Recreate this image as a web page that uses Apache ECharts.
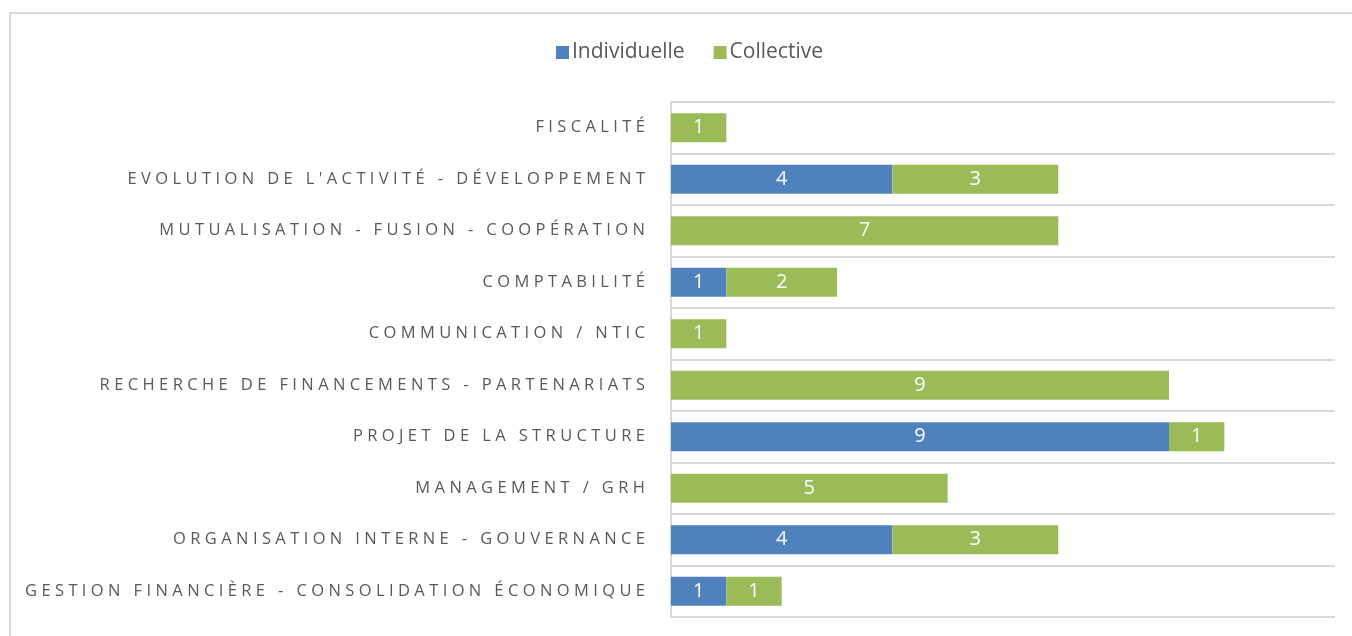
<!DOCTYPE html>
<html>
<head>
<meta charset="utf-8">
<script src="https://cdn.jsdelivr.net/npm/echarts@6/dist/echarts.min.js"></script>
<style>
  html, body { margin: 0; padding: 0; background: #fff; }
  #frame { position: absolute; left: 9px; top: 12px; width: 1360px; height: 640px; border: 2px solid #d9d9d9; box-sizing: border-box; }
  #chart { position: absolute; left: 0; top: 0; width: 1352px; height: 636px; }
</style>
</head>
<body>
<div id="frame"></div>
<div id="chart"></div>
<script>
// catégories, du bas vers le haut
const categories = [
  'GESTION FINANCIÈRE - CONSOLIDATION ÉCONOMIQUE',
  'ORGANISATION INTERNE - GOUVERNANCE',
  'MANAGEMENT / GRH',
  'PROJET DE LA STRUCTURE',
  'RECHERCHE DE FINANCEMENTS - PARTENARIATS',
  'COMMUNICATION / NTIC',
  'COMPTABILITÉ',
  'MUTUALISATION - FUSION - COOPÉRATION',
  "EVOLUTION DE L'ACTIVITÉ - DÉVELOPPEMENT",
  'FISCALITÉ',
]
const individuelle = [1, 4, 0, 9, 0, 0, 1, 0, 4, 0]
const collective = [1, 3, 5, 1, 9, 1, 2, 7, 3, 1]

const chart = echarts.init(document.getElementById('chart'))

// espacement des lettres (comme dans le graphique d'origine)
const spaced = (s) => s.split('').join('\u2009\u200A')

const labelOpt = {
  show: true,
  position: 'inside',
  color: '#fff',
  fontSize: 20,
  fontFamily: 'Open Sans',
  formatter: (p) => (p.value ? p.value : ''),
}

chart.setOption({
  animation: false,
  legend: {
    top: 37,
    left: 551,
    itemWidth: 13,
    itemHeight: 13,
    itemGap: 29,
    icon: 'rect',
    textStyle: { color: '#595959', fontSize: 21, fontFamily: 'Open Sans', padding: [0, 0, 0, -2] },
    data: ['Individuelle', 'Collective'],
  },
  grid: { left: 671, right: 17, top: 102, bottom: 19 },
  xAxis: {
    type: 'value',
    min: 0,
    max: 12,
    axisLabel: { show: false },
    axisLine: { show: false },
    axisTick: { show: false },
    splitLine: { show: false },
  },
  yAxis: {
    type: 'category',
    data: categories,
    axisTick: { show: false },
    axisLine: { show: true, lineStyle: { color: '#d9d9d9', width: 2 } },
    splitLine: { show: true, lineStyle: { color: '#d9d9d9', width: 2 } },
    axisLabel: {
      color: '#595959',
      fontSize: 16.5,
      fontFamily: 'Open Sans',
      margin: 26,
      formatter: spaced,
    },
  },
  series: [
    {
      name: 'Individuelle',
      type: 'bar',
      stack: 'total',
      barWidth: '56%',
      itemStyle: { color: '#4f81bd' },
      label: labelOpt,
      data: individuelle,
    },
    {
      name: 'Collective',
      type: 'bar',
      stack: 'total',
      barWidth: '56%',
      itemStyle: { color: '#9bbb59' },
      label: labelOpt,
      data: collective,
    },
  ],
})

window.addEventListener('resize', () => chart.resize())
</script>
</body>
</html>
